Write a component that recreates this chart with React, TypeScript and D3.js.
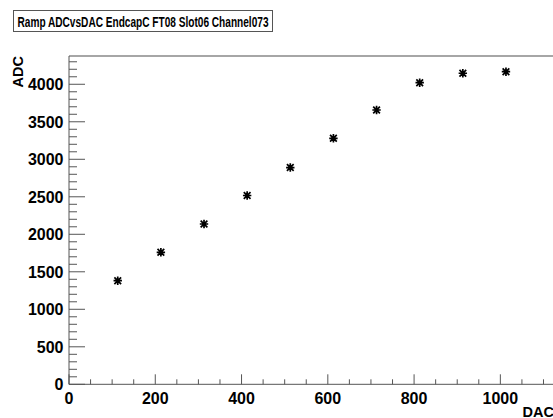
import React from "react";
import * as d3 from "d3";

const dacValues = [113, 213, 313, 413, 513, 613, 713, 813, 913, 1013];
const adcValues = [1381, 1760, 2137, 2517, 2890, 3280, 3657, 4021, 4147, 4168];
const xTickValues = [0, 200, 400, 600, 800, 1000];
const yTickValues = [0, 500, 1000, 1500, 2000, 2500, 3000, 3500, 4000];
const titleText = "Ramp ADCvsDAC EndcapC FT08 Slot06 Channel073";
const xTitle = "DAC";
const yTitle = "ADC";

const W = 553;
const H = 418;
const left = 69;
const right = 600;
const top = 56;
const bottom = 384.3;

export default function App() {
  const x = d3.scaleLinear().domain([0, 1231]).range([left, right]);
  const y = d3.scaleLinear().domain([0, 4377]).range([bottom, top]);
  const xMinor = d3.range(0, 1250, 50).filter((v) => v % 200 !== 0);
  const yMinor = d3.range(0, 4400, 100).filter((v) => v % 500 !== 0);
  const font = "'Liberation Sans', Arial, Helvetica, sans-serif";
  const s = 4.2;
  const star = d3.path();
  star.moveTo(-s, 0); star.lineTo(s, 0);
  star.moveTo(0, -s); star.lineTo(0, s);
  star.moveTo(-s * 0.8, -s * 0.8); star.lineTo(s * 0.8, s * 0.8);
  star.moveTo(-s * 0.8, s * 0.8); star.lineTo(s * 0.8, -s * 0.8);
  const starD = star.toString();

  return (
    <svg width={W} height={H} style={{ position: "absolute", left: 0, top: 0, background: "#fff" }}>
      <rect x={0} y={0} width={W} height={H} fill="#fff" />
      <line x1={left} x2={W + 10} y1={top} y2={top} stroke="#888" strokeWidth={1.5} />
      <line x1={left} x2={left} y1={top} y2={bottom} stroke="#555" strokeWidth={1} />
      <line x1={left} x2={W + 10} y1={bottom} y2={bottom} stroke="#555" strokeWidth={1} />
      {yTickValues.map((v) => (
        <g key={"yt" + v}>
          <line x1={left} x2={left + 16} y1={y(v)} y2={y(v)} stroke="#555" />
          <text x={63.5} y={y(v) + 6} textAnchor="end" fontFamily={font} fontWeight="bold" fontSize={16} fill="#000">
            {v}
          </text>
        </g>
      ))}
      {yMinor.map((v) => (
        <line key={"ym" + v} x1={left} x2={left + 8} y1={y(v)} y2={y(v)} stroke="#555" />
      ))}
      {xTickValues.map((v) => (
        <g key={"xt" + v}>
          <line x1={x(v)} x2={x(v)} y1={bottom} y2={bottom - 10} stroke="#555" />
          <text x={x(v)} y={403.5} textAnchor="middle" fontFamily={font} fontWeight="bold" fontSize={16} fill="#000">
            {v}
          </text>
        </g>
      ))}
      {xMinor.map((v) => (
        <line key={"xm" + v} x1={x(v)} x2={x(v)} y1={bottom} y2={bottom - 5} stroke="#555" />
      ))}
      <text x={554} y={416.5} textAnchor="end" fontFamily={font} fontWeight="bold" fontSize={14.5} fill="#000">
        {xTitle}
      </text>
      <text transform={`translate(23,56) rotate(-90)`} textAnchor="end" fontFamily={font} fontWeight="bold" fontSize={14.5} fill="#000">
        {yTitle}
      </text>
      {dacValues.map((d, i) => (
        <path key={"p" + i} d={starD} transform={`translate(${x(d)},${y(adcValues[i])})`} stroke="#000" strokeWidth={1.7} fill="none" />
      ))}
      <rect x={13.5} y={10.5} width={259} height={21} fill="#fff" stroke="#555" strokeWidth={1} />
      <text x={17.5} y={26.5} fontFamily={font} fontWeight="bold" fontSize={14} textLength={251} lengthAdjust="spacingAndGlyphs" fill="#000">
        {titleText}
      </text>
    </svg>
  );
}
